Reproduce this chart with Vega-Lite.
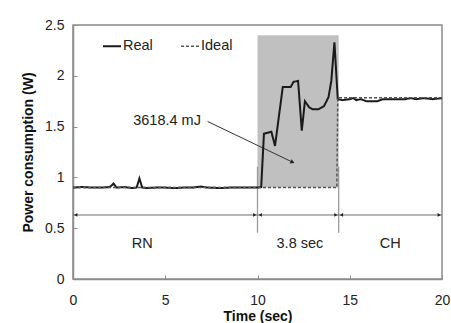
{
  "$schema": "https://vega.github.io/schema/vega-lite/v6.json",
  "width": 369,
  "height": 254,
  "autosize": {"type": "none"},
  "padding": {"left": 73, "top": 25, "right": 9, "bottom": 44},
  "config": {
    "font": "Liberation Sans",
    "view": {"stroke": "#8c8c8c", "strokeWidth": 1.5},
    "axis": {"grid": false},
    "axisX": {
      "tickSize": -4, "tickColor": "#8c8c8c", "domainColor": "#8c8c8c", "domainWidth": 1.5,
      "labelFontSize": 14, "labelColor": "#222222", "labelPadding": 18, "labelFlush": false,
      "titleFontSize": 14, "titleFontWeight": "bold", "titleColor": "#111111", "titlePadding": 2
    },
    "axisY": {
      "format": "~g", "tickSize": -4, "tickColor": "#8c8c8c", "domainColor": "#8c8c8c", "domainWidth": 1.5,
      "labelFontSize": 14, "labelColor": "#222222", "labelPadding": 13, "labelFlush": false,
      "titleFontSize": 14, "titleFontWeight": "bold", "titleColor": "#111111", "titlePadding": 9
    }
  },
  "datasets": {
    "series": [
      {"t": 0, "p": 0.9, "s": "Real"}, {"t": 0.5, "p": 0.905, "s": "Real"}, {"t": 1, "p": 0.9, "s": "Real"},
      {"t": 1.5, "p": 0.9, "s": "Real"}, {"t": 2.0, "p": 0.905, "s": "Real"}, {"t": 2.2, "p": 0.94, "s": "Real"},
      {"t": 2.35, "p": 0.9, "s": "Real"}, {"t": 2.8, "p": 0.905, "s": "Real"}, {"t": 3.2, "p": 0.895, "s": "Real"},
      {"t": 3.45, "p": 0.9, "s": "Real"}, {"t": 3.6, "p": 0.99, "s": "Real"}, {"t": 3.75, "p": 0.9, "s": "Real"},
      {"t": 4, "p": 0.895, "s": "Real"}, {"t": 4.5, "p": 0.9, "s": "Real"}, {"t": 5, "p": 0.9, "s": "Real"},
      {"t": 5.5, "p": 0.895, "s": "Real"}, {"t": 6, "p": 0.9, "s": "Real"}, {"t": 6.5, "p": 0.9, "s": "Real"},
      {"t": 6.9, "p": 0.91, "s": "Real"}, {"t": 7.3, "p": 0.9, "s": "Real"}, {"t": 8, "p": 0.895, "s": "Real"},
      {"t": 8.5, "p": 0.9, "s": "Real"}, {"t": 9, "p": 0.9, "s": "Real"}, {"t": 9.5, "p": 0.9, "s": "Real"},
      {"t": 10, "p": 0.9, "s": "Real"}, {"t": 10.2, "p": 0.905, "s": "Real"}, {"t": 10.35, "p": 1.43, "s": "Real"},
      {"t": 10.75, "p": 1.45, "s": "Real"}, {"t": 10.95, "p": 1.31, "s": "Real"}, {"t": 11.37, "p": 1.89, "s": "Real"},
      {"t": 11.8, "p": 1.89, "s": "Real"}, {"t": 11.95, "p": 1.94, "s": "Real"}, {"t": 12.2, "p": 1.95, "s": "Real"},
      {"t": 12.4, "p": 1.46, "s": "Real"}, {"t": 12.57, "p": 1.75, "s": "Real"}, {"t": 12.8, "p": 1.69, "s": "Real"},
      {"t": 13.0, "p": 1.67, "s": "Real"}, {"t": 13.3, "p": 1.67, "s": "Real"}, {"t": 13.6, "p": 1.7, "s": "Real"},
      {"t": 13.85, "p": 1.79, "s": "Real"}, {"t": 14.0, "p": 1.95, "s": "Real"}, {"t": 14.17, "p": 2.33, "s": "Real"},
      {"t": 14.35, "p": 1.77, "s": "Real"}, {"t": 14.6, "p": 1.76, "s": "Real"}, {"t": 15, "p": 1.77, "s": "Real"},
      {"t": 15.2, "p": 1.78, "s": "Real"}, {"t": 15.35, "p": 1.76, "s": "Real"}, {"t": 15.6, "p": 1.77, "s": "Real"},
      {"t": 15.9, "p": 1.75, "s": "Real"}, {"t": 16.5, "p": 1.75, "s": "Real"}, {"t": 16.8, "p": 1.77, "s": "Real"},
      {"t": 17.3, "p": 1.77, "s": "Real"}, {"t": 18, "p": 1.77, "s": "Real"}, {"t": 18.3, "p": 1.78, "s": "Real"},
      {"t": 18.6, "p": 1.77, "s": "Real"}, {"t": 19, "p": 1.78, "s": "Real"}, {"t": 19.5, "p": 1.77, "s": "Real"},
      {"t": 20, "p": 1.78, "s": "Real"},
      {"t": 0, "p": 0.9, "s": "Ideal"}, {"t": 14.3, "p": 0.9, "s": "Ideal"}, {"t": 14.35, "p": 1.785, "s": "Ideal"},
      {"t": 20, "p": 1.785, "s": "Ideal"}
    ],
    "span": [{"x0": 10, "x1": 14.4, "y0": 0.9, "y1": 2.4}],
    "dividers": [{"x": 10, "y0": 0.455, "y1": 1.105}, {"x": 14.4, "y0": 0.455, "y1": 1.105}],
    "range": [{"x0": 0, "x1": 20, "y": 0.63}],
    "heads": [
      {"x": 0.15, "y": 0.63, "shape": "triangle-left"},
      {"x": 9.85, "y": 0.63, "shape": "triangle-right"},
      {"x": 10.15, "y": 0.63, "shape": "triangle-left"},
      {"x": 14.25, "y": 0.63, "shape": "triangle-right"},
      {"x": 14.55, "y": 0.63, "shape": "triangle-left"},
      {"x": 19.85, "y": 0.63, "shape": "triangle-right"}
    ],
    "labels": [
      {"x": 3.75, "y": 0.34, "text": "RN"},
      {"x": 12.3, "y": 0.34, "text": "3.8 sec"},
      {"x": 17.2, "y": 0.34, "text": "CH"},
      {"x": 5.1, "y": 1.56, "text": "3618.4 mJ"}
    ],
    "pointer": [{"x0": 7.3, "y0": 1.55, "x1": 11.9, "y1": 1.15}]
  },
  "layer": [
    {
      "data": {"name": "span"},
      "mark": {"type": "rect", "color": "#c0c0c0"},
      "encoding": {
        "x": {"field": "x0", "type": "quantitative", "title": "Time (sec)", "scale": {"domain": [0, 20], "nice": false}, "axis": {"values": [0, 5, 10, 15, 20]}},
        "x2": {"field": "x1"},
        "y": {"field": "y0", "type": "quantitative", "title": "Power consumption (W)", "scale": {"domain": [0, 2.5], "nice": false}, "axis": {"values": [0, 0.5, 1, 1.5, 2, 2.5]}},
        "y2": {"field": "y1"}
      }
    },
    {
      "data": {"name": "dividers"},
      "mark": {"type": "rule", "color": "#9a9a9a", "strokeWidth": 1.3},
      "encoding": {
        "x": {"field": "x", "type": "quantitative", "title": "Time (sec)"},
        "y": {"field": "y0", "type": "quantitative", "title": "Power consumption (W)"},
        "y2": {"field": "y1"}
      }
    },
    {
      "data": {"name": "range"},
      "mark": {"type": "rule", "color": "#6a6a6a", "strokeWidth": 1},
      "encoding": {
        "x": {"field": "x0", "type": "quantitative", "title": "Time (sec)"},
        "x2": {"field": "x1"},
        "y": {"field": "y", "type": "quantitative", "title": "Power consumption (W)"}
      }
    },
    {
      "data": {"name": "heads"},
      "mark": {"type": "point", "filled": true, "color": "#222222", "size": 14, "opacity": 1},
      "encoding": {
        "x": {"field": "x", "type": "quantitative", "title": "Time (sec)"},
        "y": {"field": "y", "type": "quantitative", "title": "Power consumption (W)"},
        "shape": {"field": "shape", "type": "nominal", "scale": null}
      }
    },
    {
      "data": {"name": "pointer"},
      "mark": {"type": "rule", "color": "#333333", "strokeWidth": 1},
      "encoding": {
        "x": {"field": "x0", "type": "quantitative", "title": "Time (sec)"},
        "y": {"field": "y0", "type": "quantitative", "title": "Power consumption (W)"},
        "x2": {"field": "x1"},
        "y2": {"field": "y1"}
      }
    },
    {
      "data": {"name": "pointer"},
      "mark": {"type": "point", "filled": true, "color": "#222222", "size": 22, "opacity": 1, "shape": "triangle-right", "angle": 25},
      "encoding": {
        "x": {"field": "x1", "type": "quantitative", "title": "Time (sec)"},
        "y": {"field": "y1", "type": "quantitative", "title": "Power consumption (W)"}
      }
    },
    {
      "data": {"name": "labels"},
      "mark": {"type": "text", "fontSize": 14.5, "color": "#222222", "align": "center", "baseline": "middle"},
      "encoding": {
        "x": {"field": "x", "type": "quantitative", "title": "Time (sec)"},
        "y": {"field": "y", "type": "quantitative", "title": "Power consumption (W)"},
        "text": {"field": "text"}
      }
    },
    {
      "data": {"name": "series"},
      "mark": {"type": "line", "interpolate": "linear"},
      "encoding": {
        "x": {"field": "t", "type": "quantitative", "title": "Time (sec)"},
        "y": {"field": "p", "type": "quantitative", "title": "Power consumption (W)"},
        "detail": {"field": "s"},
        "color": {
          "field": "s", "type": "nominal", "title": null,
          "scale": {"domain": ["Real", "Ideal"], "range": ["#1a1a1a", "#555555"]},
          "legend": {
            "orient": "none", "legendX": 29, "legendY": 11, "direction": "horizontal", "padding": 0,
            "symbolType": "stroke", "symbolSize": 324, "symbolStrokeWidth": 1.5,
            "labelFontSize": 14.5, "labelColor": "#222222", "labelOffset": 1, "columnPadding": 25
          }
        },
        "strokeDash": {
          "field": "s", "type": "nominal", "title": null,
          "scale": {"domain": ["Real", "Ideal"], "range": [[1, 0], [3, 2]]}
        },
        "strokeWidth": {
          "field": "s", "type": "nominal", "legend": null,
          "scale": {"domain": ["Real", "Ideal"], "range": [2, 1.5]}
        }
      }
    }
  ]
}
